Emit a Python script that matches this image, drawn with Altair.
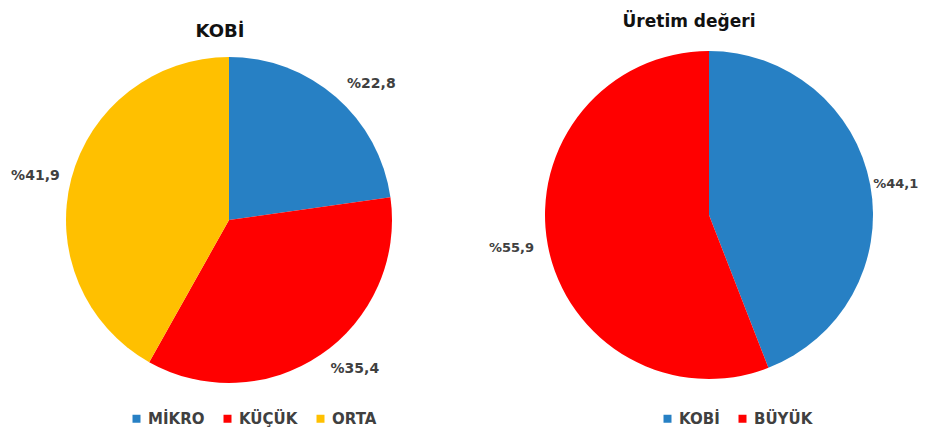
import math
import altair as alt
import pandas as pd

# Left pie: KOBİ breakdown
left_cats = ["MİKRO", "KÜÇÜK", "ORTA"]
left_vals = [22.8, 35.4, 41.9]
left_colors = ["#2780C4", "#FF0000", "#FFC000"]

# Right pie: Üretim değeri
right_cats = ["KOBİ", "BÜYÜK"]
right_vals = [44.1, 55.9]
right_colors = ["#2780C4", "#FF0000"]

FONT = "DejaVu Sans"
TXT = "#404040"
TSCALE = alt.Scale(domain=[0, 1], range=[0, 2 * math.pi])


def pie_layers(cats, vals, colors, title, cx, cy, r, rr, rl, tx, ty, lx, ly,
               title_size, lbl_size, leg_size):
    df = pd.DataFrame({
        "cat": cats,
        "val": vals,
        "idx": list(range(len(cats))),
        "label": ["%" + f"{v:.1f}".replace(".", ",") for v in vals],
    })
    base = (
        alt.Chart(df)
        .transform_window(cum="sum(val)", sort=[alt.SortField("idx")], frame=[None, 0])
        .transform_joinaggregate(total="sum(val)")
        .transform_calculate(
            start="(datum.cum - datum.val) / datum.total",
            end="datum.cum / datum.total",
            mid="(datum.cum - datum.val / 2) / datum.total",
        )
    )
    arcs = base.mark_arc(outerRadius=r).encode(
        theta=alt.Theta("start:Q", scale=TSCALE, stack=None),
        theta2="end:Q",
        color=alt.Color(
            "cat:N",
            scale=alt.Scale(domain=cats, range=colors),
            legend=alt.Legend(
                title=None, orient="none", legendX=lx, legendY=ly,
                direction="horizontal", symbolType="square", symbolSize=64,
                symbolStrokeWidth=0, labelFont=FONT, labelFontSize=leg_size,
                labelFontWeight="bold", labelColor=TXT, columnPadding=15,
                labelOffset=4,
            ),
        ),
        x=alt.value(cx),
        y=alt.value(cy),
    )
    lbl_right = base.transform_filter("datum.mid < 0.5").mark_text(
        align="left", baseline="middle", radius=rr, font=FONT,
        fontSize=lbl_size, fontWeight="bold", color=TXT,
    ).encode(
        theta=alt.Theta("mid:Q", scale=TSCALE, stack=None),
        text="label:N", x=alt.value(cx), y=alt.value(cy),
    )
    lbl_left = base.transform_filter("datum.mid >= 0.5").mark_text(
        align="right", baseline="middle", radius=rl, font=FONT,
        fontSize=lbl_size, fontWeight="bold", color=TXT,
    ).encode(
        theta=alt.Theta("mid:Q", scale=TSCALE, stack=None),
        text="label:N", x=alt.value(cx), y=alt.value(cy),
    )
    ttl = alt.Chart(pd.DataFrame({"t": [title]})).mark_text(
        font=FONT, fontSize=title_size, fontWeight="bold", color="#111111",
        baseline="middle", align="center",
    ).encode(text="t:N", x=alt.value(tx), y=alt.value(ty))
    return [arcs, lbl_right, lbl_left, ttl]


left = pie_layers(left_cats, left_vals, left_colors, "KOBİ",
                  221, 212, 163, 180, 175, 212, 24, 121, 403, 18, 14, 15)
right = pie_layers(right_cats, right_vals, right_colors, "Üretim değeri",
                   701, 207, 164, 167, 178, 681, 14, 652, 403, 17, 13, 15)

chart = (
    alt.layer(*left, *right)
    .resolve_scale(color="independent")
    .properties(width=912, height=420, padding=0, background="white",
                autosize=alt.AutoSizeParams(type="none"))
    .configure_view(stroke=None)
)

chart.save("out.html", embed_options={"renderer": "svg", "actions": False})
